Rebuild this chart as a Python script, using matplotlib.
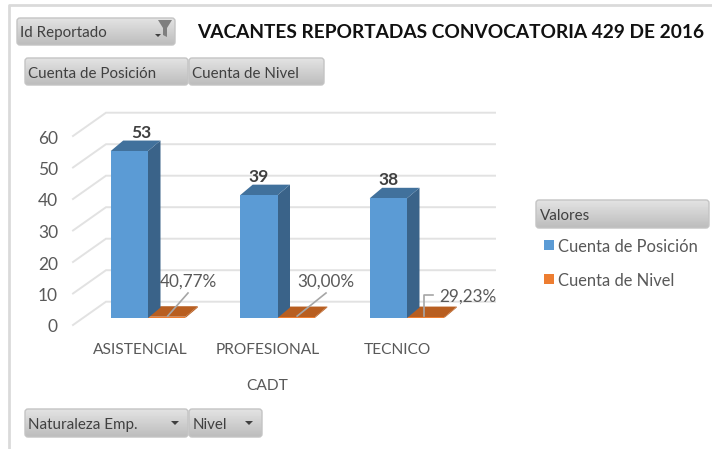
import matplotlib
matplotlib.use("Agg")
import matplotlib.pyplot as plt
import numpy as np
from matplotlib.patches import FancyBboxPatch, Polygon, Rectangle

categories = ["ASISTENCIAL", "PROFESIONAL", "TECNICO"]
posicion = [53, 39, 38]
nivel = [0.4077, 0.30, 0.2923]
y_ticks = [0, 10, 20, 30, 40, 50, 60]
series_names = ["Cuenta de Posición", "Cuenta de Nivel"]
title = "VACANTES REPORTADAS CONVOCATORIA 429 DE 2016"

BLUE, BLUE_SIDE, BLUE_TOP = "#5B9BD5", "#3A6389", "#41719C"
ORANGE, ORANGE_TOP = "#ED7D31", "#B85E20"
GRID = "#E2E2E2"
TXT = "#595959"
BTN_TXT = "#404040"

plt.rcParams["font.family"] = ["Lato", "DejaVu Sans"]
W, H = 712, 449
fig = plt.figure(figsize=(W / 100, H / 100), dpi=100)

# ui layer in pixel coords
ui = fig.add_axes([0, 0, 1, 1])
ui.set_axis_off()


def button(x0, y0, x1, y1, label):
    patch = FancyBboxPatch((x0 + 2, y0 + 2), x1 - x0 - 4, y1 - y0 - 4,
                           boxstyle="round,pad=2,rounding_size=3",
                           fc="none", ec="#C4C4C4", lw=1, zorder=3)
    ui.add_patch(patch)
    grad = np.linspace(0.89, 0.74, 32).reshape(-1, 1)
    im = ui.imshow(grad, extent=(x0, x1, y1, y0), cmap="gray", vmin=0, vmax=1,
                   aspect="auto", zorder=2, interpolation="bilinear")
    im.set_clip_path(patch)
    ui.text(x0 + 3.5, (y0 + y1) / 2 + 2, label, fontsize=10.9, color=BTN_TXT,
            va="center", ha="left", zorder=4)


def arrow(x, y):
    ui.add_patch(Polygon([(x - 4, y - 2), (x + 4, y - 2), (x, y + 2)], fc="#404040", ec="none", zorder=4))


# frame of the screenshot
ui.plot([9, 9, W], [H, 5, 5], color="#DADADA", lw=2, zorder=1)

button(17, 18, 175, 45, "Id Reportado")
button(25, 58, 188, 85, series_names[0])
button(189, 58, 324, 85, series_names[1])
button(536, 200, 709, 228, "Valores")
button(25, 409, 188, 437, "Naturaleza Emp.")
button(189, 409, 262, 437, "Nivel")
arrow(175, 423)
arrow(249, 423)
ui.add_patch(Polygon([(158, 20), (172, 20), (167, 28), (167, 37), (163, 35), (163, 28)],
                     fc="#7F7F7F", ec="none", zorder=4))
ui.add_patch(Polygon([(155, 34), (161, 34), (158, 37)], fc="#404040", ec="none", zorder=4))

ui.text(451, 33, title, fontsize=13.8, fontweight="bold", color="#111111", ha="center", va="center")

# legend
for (yc, c, name) in zip([245, 279], [BLUE, ORANGE], series_names):
    ui.add_patch(Rectangle((544, yc - 5), 10, 10, fc=c, ec="none"))
    ui.text(558, yc + 1.5, name, fontsize=11.9, color=TXT, va="center", ha="left")

ui.text(140, 350, categories[0], fontsize=11.2, color=TXT, ha="center", va="center")
ui.text(268, 350, categories[1], fontsize=11.2, color=TXT, ha="center", va="center")
ui.text(397, 350, categories[2], fontsize=11.2, color=TXT, ha="center", va="center")
ui.text(267, 386, "CADT", fontsize=11.2, color=TXT, ha="center", va="center")

ui.set_xlim(0, W)
ui.set_ylim(H, 0)

# chart layer, front plane of the 3d columns
x_unit = 129.5   # px per category
y_unit = 3.15    # px per value
left_px, right_px = 73, 495
ax = fig.add_axes([left_px / W, (H - 318) / H, (right_px - left_px) / W, 60 * y_unit / H])
ax.set_xlim((left_px - 148) / x_unit, (right_px - 148) / x_unit)
ax.set_ylim(0, 60)
ax.set_axis_off()
ax.patch.set_alpha(0)

px = 1 / x_unit
py = 1 / y_unit
for v in y_ticks:
    # side wall + back wall gridline
    x0 = (left_px - 148) * px
    xb = (106 - 148) * px
    xr = (right_px - 148) * px
    ax.plot([x0, xb, xr], [v - 7 * py, v + 16.3 * py, v + 16.3 * py], color=GRID, lw=1.4,
            clip_on=False, zorder=1, solid_joinstyle="miter")
    ax.text(x0 - 15 * px, v - 9.5 * py, str(v), fontsize=12.5, color=TXT, ha="right", va="center", clip_on=False)

bw = 37.3 * px
dx, dy = 12.5 * px, 10.5 * py
x = np.arange(len(categories))


def column(xc, h, front, side, top, z):
    ax.bar(xc, h, width=bw, color=front, zorder=z + 1, linewidth=0)
    l, r = xc - bw / 2, xc + bw / 2
    ax.add_patch(Polygon([(r, 0), (r + dx, dy), (r + dx, h + dy), (r, h)], fc=side, ec="none", zorder=z))
    ax.add_patch(Polygon([(l, h), (l + dx, h + dy), (r + dx, h + dy), (r, h)], fc=top, ec="none", zorder=z))


for i in x:
    column(i + bw / 2, nivel[i], ORANGE, ORANGE_TOP, ORANGE_TOP, 3)
    column(i - bw / 2, posicion[i], BLUE, BLUE_SIDE, BLUE_TOP, 5)
    # the first label sits further right in the reference
    ax.annotate(str(posicion[i]), (i - bw / 2, posicion[i]), xytext=(12 if i == 0 else 0, 18),
                textcoords="offset pixels", fontsize=12.5, fontweight="bold",
                color="#404040", ha="center", va="center", zorder=8)

# percent labels with their leader lines
for i, pos in enumerate([(188, 282), (326, 282), (468, 297)]):
    base = i + bw / 2 + 1 * px
    lbl = f"{nivel[i] * 100:.2f}%".replace(".", ",")
    lx = (pos[0] - 148) * px
    ly = (318 - pos[1]) * py
    if i < 2:
        ax.plot([base, lx], [0.6, (318 - 293) * py], color="#A6A6A6", lw=1.2, zorder=7, clip_on=False)
    else:
        kx = (433 - 148) * px
        bx = (424 - 148) * px
        ky = (318 - 295) * py
        ax.plot([bx, bx, kx], [0.6, ky, ky], color="#A6A6A6", lw=1.2, zorder=7, clip_on=False)
    ax.text(lx, ly, lbl, fontsize=12.3, color=TXT, ha="center", va="center", zorder=8, clip_on=False)

fig.savefig("out.png", dpi=100)
